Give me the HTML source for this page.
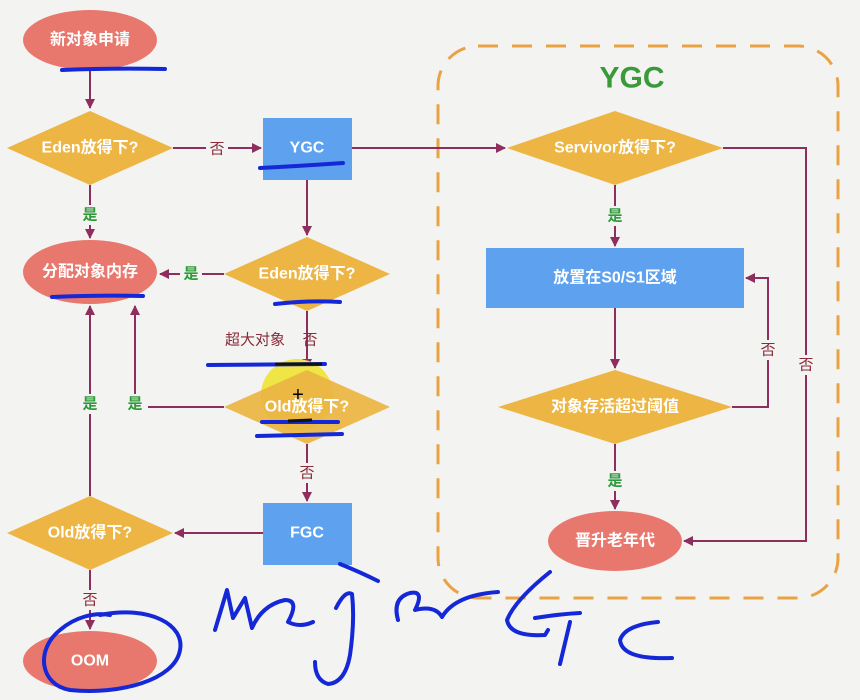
<!DOCTYPE html>
<html><head><meta charset="utf-8"><style>
html,body{margin:0;padding:0;background:#f3f3f1;}
svg{display:block;font-family:"Liberation Sans","Noto Sans CJK SC",sans-serif;}
.w{fill:#fff;font-weight:bold;font-size:16px;text-anchor:middle;dominant-baseline:central;}
.g{fill:#2e9a3a;font-size:15px;font-weight:bold;text-anchor:middle;dominant-baseline:central;}
.r{fill:#8a2a3a;font-size:15px;text-anchor:middle;dominant-baseline:central;}
.l{stroke:#8e2e5e;stroke-width:2;fill:none;}
.ink{stroke:#1428d8;stroke-width:4;fill:none;stroke-linecap:round;stroke-linejoin:round;}
</style></head><body>
<svg width="860" height="700" viewBox="0 0 860 700">
<defs><marker id="a" markerWidth="10" markerHeight="10" refX="9" refY="5" orient="auto" markerUnits="userSpaceOnUse"><path d="M0,0 L10,5 L0,10 z" fill="#8e2e5e"/></marker></defs>
<rect x="438" y="46" width="400" height="552" rx="40" fill="none" stroke="#e9a344" stroke-width="3" stroke-dasharray="20,14"/>
<text x="632" y="78" fill="#3a9a3a" font-size="30" font-weight="bold" text-anchor="middle" dominant-baseline="central">YGC</text>

<path class="l" d="M90,70 V108" marker-end="url(#a)"/>
<path class="l" d="M173,148 H261" marker-end="url(#a)"/>
<path class="l" d="M90,185 V238" marker-end="url(#a)"/>
<path class="l" d="M307,180 V235" marker-end="url(#a)"/>
<path class="l" d="M224,274 H160" marker-end="url(#a)"/>
<path class="l" d="M307,311 V368" marker-end="url(#a)"/>
<path class="l" d="M224,407 H135 V306" marker-end="url(#a)"/>
<path class="l" d="M307,444 V501" marker-end="url(#a)"/>
<path class="l" d="M263,533 H175" marker-end="url(#a)"/>
<path class="l" d="M90,496 V306" marker-end="url(#a)"/>
<path class="l" d="M90,570 V629" marker-end="url(#a)"/>
<path class="l" d="M352,148 H505" marker-end="url(#a)"/>
<path class="l" d="M615,185 V246" marker-end="url(#a)"/>
<path class="l" d="M615,308 V368" marker-end="url(#a)"/>
<path class="l" d="M615,444 V509" marker-end="url(#a)"/>
<path class="l" d="M732,407 H768 V278 H746" marker-end="url(#a)"/>
<path class="l" d="M723,148 H806 V541 H684" marker-end="url(#a)"/>

<rect x="206" y="139" width="22" height="20" fill="#f3f3f1"/><text class="r" x="217" y="149">否</text>
<rect x="80" y="205" width="22" height="20" fill="#f3f3f1"/><text class="g" x="90" y="215">是</text>
<rect x="180" y="264" width="22" height="20" fill="#f3f3f1"/><text class="g" x="191" y="274">是</text>
<text class="r" x="255" y="340">超大对象</text><text class="r" x="310" y="340">否</text>
<rect x="124" y="394" width="24" height="20" fill="#f3f3f1"/><text class="g" x="135" y="404">是</text>
<rect x="80" y="394" width="22" height="20" fill="#f3f3f1"/><text class="g" x="90" y="404">是</text>
<rect x="296" y="463" width="22" height="20" fill="#f3f3f1"/><text class="r" x="307" y="473">否</text>
<rect x="80" y="590" width="22" height="20" fill="#f3f3f1"/><text class="r" x="90" y="600">否</text>
<rect x="604" y="206" width="22" height="20" fill="#f3f3f1"/><text class="g" x="615" y="216">是</text>
<rect x="604" y="471" width="22" height="20" fill="#f3f3f1"/><text class="g" x="615" y="481">是</text>
<rect x="758" y="340" width="20" height="20" fill="#f3f3f1"/><text class="r" x="768" y="350">否</text>
<rect x="796" y="355" width="20" height="20" fill="#f3f3f1"/><text class="r" x="806" y="365">否</text>

<ellipse cx="90" cy="40" rx="67" ry="30" fill="#e8786e"/><text class="w" x="90" y="40">新对象申请</text>
<polygon points="7,148 90,111 173,148 90,185" fill="#ecb544"/><text class="w" x="90" y="148">Eden放得下?</text>
<rect x="263" y="118" width="89" height="62" fill="#5ea2ef"/><text class="w" x="307" y="148">YGC</text>
<polygon points="224,274 307,237 390,274 307,311" fill="#ecb544"/><text class="w" x="307" y="274">Eden放得下?</text>
<ellipse cx="90" cy="272" rx="67" ry="32" fill="#e8786e"/><text class="w" x="90" y="272">分配对象内存</text>
<circle cx="297" cy="395" r="36" fill="#efe545"/>
<polygon points="224,407 307,370 390,407 307,444" fill="#ecb544" opacity="0.93"/><text class="w" x="307" y="407">Old放得下?</text>
<rect x="263" y="503" width="89" height="62" fill="#5ea2ef"/><text class="w" x="307" y="533">FGC</text>
<polygon points="7,533 90,496 173,533 90,570" fill="#ecb544"/><text class="w" x="90" y="533">Old放得下?</text>
<ellipse cx="90" cy="661" rx="67" ry="30" fill="#e8786e"/><text class="w" x="90" y="661">OOM</text>

<polygon points="507,148 615,111 723,148 615,185" fill="#ecb544"/><text class="w" x="615" y="148">Servivor放得下?</text>
<rect x="486" y="248" width="258" height="60" fill="#5ea2ef"/><text class="w" x="615" y="278">放置在S0/S1区域</text>
<polygon points="498,407 615,370 732,407 615,444" fill="#ecb544"/><text class="w" x="615" y="407">对象存活超过阈值</text>
<ellipse cx="615" cy="541" rx="67" ry="30" fill="#e8786e"/><text class="w" x="615" y="541">晋升老年代</text>

<path class="ink" d="M62,70 Q110,68 165,69"/>
<path class="ink" d="M260,168 Q300,166 343,163"/>
<path class="ink" d="M52,297 Q100,295 143,296"/>
<path class="ink" d="M275,304 Q310,300 340,302"/>
<path class="ink" d="M208,365 L325,364"/>
<path d="M275,364 L322,364" stroke="#111" stroke-width="3"/>
<path class="ink" d="M262,422 L338,422"/>
<path class="ink" d="M257,436 L342,434"/>
<path d="M288,421 L312,420" stroke="#111" stroke-width="3"/>
<text x="298" y="395" font-size="20" text-anchor="middle" dominant-baseline="central" fill="#000">+</text>
<path class="ink" d="M100,615 C150,605 185,625 180,650 C175,680 120,695 70,690 C40,685 35,650 60,630 C75,617 95,612 110,615"/>
<path class="ink" d="M340,564 Q360,572 378,581"/>
<path class="ink" d="M215,630 L227,590 L233,618 L245,598 L252,628 Q262,605 285,600 Q300,600 288,622 Q300,628 313,622"/>
<path class="ink" d="M336,608 Q345,590 352,594 Q355,620 350,655 Q345,683 328,684 Q315,680 315,662"/>
<path class="ink" d="M398,620 Q392,598 410,593 Q425,590 415,610 Q435,605 442,617 M442,617 Q455,595 498,592"/>
<path class="ink" d="M550,572 Q515,600 507,620 Q510,637 545,635 L548,630"/>
<path class="ink" d="M535,618 Q560,614 580,613"/>
<path class="ink" d="M570,622 L560,664"/>
<path class="ink" d="M658,622 Q625,625 620,640 Q622,660 672,658"/>
</svg>
</body></html>
